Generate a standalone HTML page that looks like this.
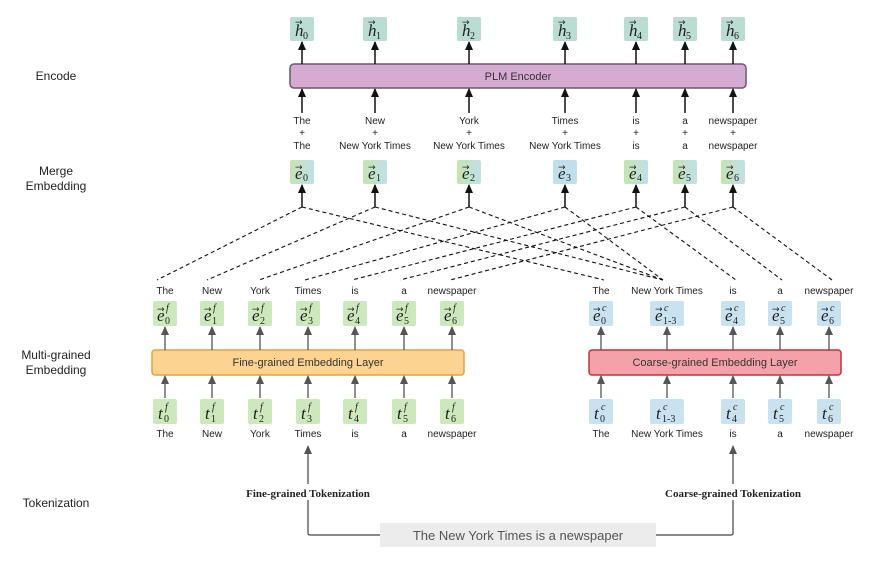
<!DOCTYPE html>
<html><head><meta charset="utf-8"><style>
html,body{margin:0;padding:0;background:#fff;width:874px;height:576px;overflow:hidden}
svg{display:block}
.s{font-family:"Liberation Sans",sans-serif;font-size:10px;fill:#222;text-anchor:middle}
.L{font-family:"Liberation Sans",sans-serif;font-size:12px;fill:#222;text-anchor:middle}
.m{font-family:"Liberation Serif",serif;font-style:italic;font-size:17px;fill:#222}
.sub{font-family:"Liberation Serif",serif;font-size:10px;fill:#222}
.sup{font-family:"Liberation Serif",serif;font-style:italic;font-size:10px;fill:#222}
.ar{font-family:"DejaVu Sans",sans-serif;font-size:9px;fill:#222}
</style></head><body>
<svg width="874" height="576" viewBox="0 0 874 576" xmlns="http://www.w3.org/2000/svg">
<defs>
<marker id="a" markerWidth="9" markerHeight="8" refX="8" refY="4" orient="auto" markerUnits="userSpaceOnUse"><path d="M0,0 L9,4 L0,8 Z" fill="#111"/></marker>
<marker id="g" markerWidth="9" markerHeight="8" refX="8" refY="4" orient="auto" markerUnits="userSpaceOnUse"><path d="M0,0 L9,4 L0,8 Z" fill="#555"/></marker>
<linearGradient id="mg" x1="0" y1="0" x2="1" y2="0"><stop offset="0" stop-color="#c5e4b0"/><stop offset="1" stop-color="#bfe0ea"/></linearGradient>
</defs>

<text class="L" x="56" y="80">Encode</text>
<text class="L" x="56" y="175">Merge</text>
<text class="L" x="56" y="190">Embedding</text>
<text class="L" x="56" y="359">Multi-grained</text>
<text class="L" x="56" y="374">Embedding</text>
<text class="L" x="56" y="507">Tokenization</text>

<g fill="#b9dcd3">
<rect x="290" y="17" width="24" height="24" rx="2"/><rect x="363" y="17" width="24" height="24" rx="2"/><rect x="457" y="17" width="24" height="24" rx="2"/><rect x="553" y="17" width="24" height="24" rx="2"/><rect x="624" y="17" width="24" height="24" rx="2"/><rect x="673" y="17" width="24" height="24" rx="2"/><rect x="721" y="17" width="24" height="24" rx="2"/>
</g>
<g>
<text class="m" x="295" y="36">h</text><text class="sub" x="303" y="39">0</text><text class="ar" x="295" y="25">→</text>
<text class="m" x="368" y="36">h</text><text class="sub" x="376" y="39">1</text><text class="ar" x="368" y="25">→</text>
<text class="m" x="462" y="36">h</text><text class="sub" x="470" y="39">2</text><text class="ar" x="462" y="25">→</text>
<text class="m" x="558" y="36">h</text><text class="sub" x="566" y="39">3</text><text class="ar" x="558" y="25">→</text>
<text class="m" x="629" y="36">h</text><text class="sub" x="637" y="39">4</text><text class="ar" x="629" y="25">→</text>
<text class="m" x="678" y="36">h</text><text class="sub" x="686" y="39">5</text><text class="ar" x="678" y="25">→</text>
<text class="m" x="726" y="36">h</text><text class="sub" x="734" y="39">6</text><text class="ar" x="726" y="25">→</text>
</g>

<rect x="290" y="64" width="456" height="24" rx="4" fill="#d5abd4" stroke="#6f566f" stroke-width="1.5"/>
<text class="s" x="518" y="80" style="font-size:11px;fill:#333">PLM Encoder</text>
<g stroke="#111" stroke-width="1.5" marker-end="url(#a)">
<line x1="302" y1="64" x2="302" y2="42"/><line x1="375" y1="64" x2="375" y2="42"/><line x1="469" y1="64" x2="469" y2="42"/><line x1="565" y1="64" x2="565" y2="42"/><line x1="636" y1="64" x2="636" y2="42"/><line x1="685" y1="64" x2="685" y2="42"/><line x1="733" y1="64" x2="733" y2="42"/>
<line x1="302" y1="113" x2="302" y2="89"/><line x1="375" y1="113" x2="375" y2="89"/><line x1="469" y1="113" x2="469" y2="89"/><line x1="565" y1="113" x2="565" y2="89"/><line x1="636" y1="113" x2="636" y2="89"/><line x1="685" y1="113" x2="685" y2="89"/><line x1="733" y1="113" x2="733" y2="89"/>
<line x1="302" y1="207" x2="302" y2="185"/><line x1="375" y1="207" x2="375" y2="185"/><line x1="469" y1="207" x2="469" y2="185"/><line x1="565" y1="207" x2="565" y2="185"/><line x1="636" y1="207" x2="636" y2="185"/><line x1="685" y1="207" x2="685" y2="185"/><line x1="733" y1="207" x2="733" y2="185"/>
</g>
<g class="s">
<text x="302" y="124">The</text><text x="302" y="136">+</text><text x="302" y="149">The</text>
<text x="375" y="124">New</text><text x="375" y="136">+</text><text x="375" y="149">New York Times</text>
<text x="469" y="124">York</text><text x="469" y="136">+</text><text x="469" y="149">New York Times</text>
<text x="565" y="124">Times</text><text x="565" y="136">+</text><text x="565" y="149">New York Times</text>
<text x="636" y="124">is</text><text x="636" y="136">+</text><text x="636" y="149">is</text>
<text x="685" y="124">a</text><text x="685" y="136">+</text><text x="685" y="149">a</text>
<text x="733" y="124">newspaper</text><text x="733" y="136">+</text><text x="733" y="149">newspaper</text>
</g>

<g fill="url(#mg)">
<rect x="290" y="160" width="24" height="24" rx="2"/><rect x="363" y="160" width="24" height="24" rx="2"/><rect x="457" y="160" width="24" height="24" rx="2"/><rect x="553" y="160" width="24" height="24" rx="2" fill="#bfe0ea"/><rect x="624" y="160" width="24" height="24" rx="2"/><rect x="673" y="160" width="24" height="24" rx="2"/><rect x="721" y="160" width="24" height="24" rx="2"/>
</g>
<g>
<text class="m" x="295" y="179">e</text><text class="sub" x="303" y="181">0</text><text class="ar" x="295" y="170">→</text>
<text class="m" x="368" y="179">e</text><text class="sub" x="376" y="181">1</text><text class="ar" x="368" y="170">→</text>
<text class="m" x="462" y="179">e</text><text class="sub" x="470" y="181">2</text><text class="ar" x="462" y="170">→</text>
<text class="m" x="558" y="179">e</text><text class="sub" x="566" y="181">3</text><text class="ar" x="558" y="170">→</text>
<text class="m" x="629" y="179">e</text><text class="sub" x="637" y="181">4</text><text class="ar" x="629" y="170">→</text>
<text class="m" x="678" y="179">e</text><text class="sub" x="686" y="181">5</text><text class="ar" x="678" y="170">→</text>
<text class="m" x="726" y="179">e</text><text class="sub" x="734" y="181">6</text><text class="ar" x="726" y="170">→</text>
</g>

<g stroke="#111" stroke-width="1.1" stroke-dasharray="4,3" fill="none">
<line x1="302" y1="207" x2="157" y2="280"/><line x1="302" y1="207" x2="604" y2="280"/>
<line x1="375" y1="207" x2="207" y2="280"/><line x1="375" y1="207" x2="663" y2="280"/>
<line x1="469" y1="207" x2="259" y2="280"/><line x1="469" y1="207" x2="663" y2="280"/>
<line x1="565" y1="207" x2="305" y2="280"/><line x1="565" y1="207" x2="663" y2="280"/>
<line x1="636" y1="207" x2="352" y2="280"/><line x1="636" y1="207" x2="736" y2="280"/>
<line x1="685" y1="207" x2="400" y2="280"/><line x1="685" y1="207" x2="782" y2="280"/>
<line x1="733" y1="207" x2="450" y2="280"/><line x1="733" y1="207" x2="832" y2="280"/>
</g>

<g class="s">
<text x="165" y="294">The</text><text x="212" y="294">New</text><text x="260" y="294">York</text><text x="308" y="294">Times</text><text x="355" y="294">is</text><text x="404" y="294">a</text><text x="452" y="294">newspaper</text>
<text x="165" y="437">The</text><text x="212" y="437">New</text><text x="260" y="437">York</text><text x="308" y="437">Times</text><text x="355" y="437">is</text><text x="404" y="437">a</text><text x="452" y="437">newspaper</text>
<text x="601" y="294">The</text><text x="667" y="294">New York Times</text><text x="733" y="294">is</text><text x="780" y="294">a</text><text x="829" y="294">newspaper</text>
<text x="601" y="437">The</text><text x="667" y="437">New York Times</text><text x="733" y="437">is</text><text x="780" y="437">a</text><text x="829" y="437">newspaper</text>
</g>

<g fill="#cde8bd">
<rect x="153" y="301" width="24" height="25" rx="2"/><rect x="200" y="301" width="24" height="25" rx="2"/><rect x="248" y="301" width="24" height="25" rx="2"/><rect x="296" y="301" width="24" height="25" rx="2"/><rect x="343" y="301" width="24" height="25" rx="2"/><rect x="392" y="301" width="24" height="25" rx="2"/><rect x="440" y="301" width="24" height="25" rx="2"/>
<rect x="153" y="399" width="24" height="25" rx="2"/><rect x="200" y="399" width="24" height="25" rx="2"/><rect x="248" y="399" width="24" height="25" rx="2"/><rect x="296" y="399" width="24" height="25" rx="2"/><rect x="343" y="399" width="24" height="25" rx="2"/><rect x="392" y="399" width="24" height="25" rx="2"/><rect x="440" y="399" width="24" height="25" rx="2"/>
</g>
<g>
<text class="m" x="157" y="321">e</text><text class="sub" x="165" y="324">0</text><text class="sup" x="166" y="311">f</text><text class="ar" x="157" y="312">→</text>
<text class="m" x="204" y="321">e</text><text class="sub" x="212" y="324">1</text><text class="sup" x="213" y="311">f</text><text class="ar" x="204" y="312">→</text>
<text class="m" x="252" y="321">e</text><text class="sub" x="260" y="324">2</text><text class="sup" x="261" y="311">f</text><text class="ar" x="252" y="312">→</text>
<text class="m" x="300" y="321">e</text><text class="sub" x="308" y="324">3</text><text class="sup" x="309" y="311">f</text><text class="ar" x="300" y="312">→</text>
<text class="m" x="347" y="321">e</text><text class="sub" x="355" y="324">4</text><text class="sup" x="356" y="311">f</text><text class="ar" x="347" y="312">→</text>
<text class="m" x="396" y="321">e</text><text class="sub" x="404" y="324">5</text><text class="sup" x="405" y="311">f</text><text class="ar" x="396" y="312">→</text>
<text class="m" x="444" y="321">e</text><text class="sub" x="452" y="324">6</text><text class="sup" x="453" y="311">f</text><text class="ar" x="444" y="312">→</text>
<text class="m" x="158" y="419">t</text><text class="sub" x="164" y="422">0</text><text class="sup" x="165" y="410">f</text>
<text class="m" x="205" y="419">t</text><text class="sub" x="211" y="422">1</text><text class="sup" x="212" y="410">f</text>
<text class="m" x="253" y="419">t</text><text class="sub" x="259" y="422">2</text><text class="sup" x="260" y="410">f</text>
<text class="m" x="301" y="419">t</text><text class="sub" x="307" y="422">3</text><text class="sup" x="308" y="410">f</text>
<text class="m" x="348" y="419">t</text><text class="sub" x="354" y="422">4</text><text class="sup" x="355" y="410">f</text>
<text class="m" x="397" y="419">t</text><text class="sub" x="403" y="422">5</text><text class="sup" x="404" y="410">f</text>
<text class="m" x="445" y="419">t</text><text class="sub" x="451" y="422">6</text><text class="sup" x="452" y="410">f</text>
</g>

<g fill="#c9e2f0">
<rect x="589" y="301" width="24" height="25" rx="2"/><rect x="650" y="301" width="34" height="25" rx="2"/><rect x="721" y="301" width="24" height="25" rx="2"/><rect x="768" y="301" width="24" height="25" rx="2"/><rect x="817" y="301" width="24" height="25" rx="2"/>
<rect x="589" y="399" width="24" height="25" rx="2"/><rect x="650" y="399" width="34" height="25" rx="2"/><rect x="721" y="399" width="24" height="25" rx="2"/><rect x="768" y="399" width="24" height="25" rx="2"/><rect x="817" y="399" width="24" height="25" rx="2"/>
</g>
<g>
<text class="m" x="593" y="321">e</text><text class="sub" x="601" y="324">0</text><text class="sup" x="602" y="311">c</text><text class="ar" x="593" y="312">→</text>
<text class="m" x="655" y="321">e</text><text class="sub" x="663" y="324">1-3</text><text class="sup" x="664" y="311">c</text><text class="ar" x="655" y="312">→</text>
<text class="m" x="725" y="321">e</text><text class="sub" x="733" y="324">4</text><text class="sup" x="734" y="311">c</text><text class="ar" x="725" y="312">→</text>
<text class="m" x="772" y="321">e</text><text class="sub" x="780" y="324">5</text><text class="sup" x="781" y="311">c</text><text class="ar" x="772" y="312">→</text>
<text class="m" x="821" y="321">e</text><text class="sub" x="829" y="324">6</text><text class="sup" x="830" y="311">c</text><text class="ar" x="821" y="312">→</text>
<text class="m" x="594" y="419">t</text><text class="sub" x="600" y="422">0</text><text class="sup" x="601" y="410">c</text>
<text class="m" x="656" y="419">t</text><text class="sub" x="662" y="422">1-3</text><text class="sup" x="663" y="410">c</text>
<text class="m" x="726" y="419">t</text><text class="sub" x="732" y="422">4</text><text class="sup" x="733" y="410">c</text>
<text class="m" x="773" y="419">t</text><text class="sub" x="779" y="422">5</text><text class="sup" x="780" y="410">c</text>
<text class="m" x="822" y="419">t</text><text class="sub" x="828" y="422">6</text><text class="sup" x="829" y="410">c</text>
</g>

<rect x="152" y="350" width="312" height="25" rx="3" fill="#fcd391" stroke="#e6a23a" stroke-width="1.5"/>
<text class="s" x="308" y="366" style="font-size:11px;fill:#333">Fine-grained Embedding Layer</text>
<rect x="589" y="350" width="252" height="25" rx="3" fill="#f4a2a9" stroke="#c8303a" stroke-width="1.5"/>
<text class="s" x="715" y="366" style="font-size:11px;fill:#333">Coarse-grained Embedding Layer</text>

<g stroke="#555" stroke-width="1.3" marker-end="url(#g)">
<line x1="165" y1="350" x2="165" y2="327"/><line x1="212" y1="350" x2="212" y2="327"/><line x1="260" y1="350" x2="260" y2="327"/><line x1="308" y1="350" x2="308" y2="327"/><line x1="355" y1="350" x2="355" y2="327"/><line x1="404" y1="350" x2="404" y2="327"/><line x1="452" y1="350" x2="452" y2="327"/>
<line x1="165" y1="398" x2="165" y2="376"/><line x1="212" y1="398" x2="212" y2="376"/><line x1="260" y1="398" x2="260" y2="376"/><line x1="308" y1="398" x2="308" y2="376"/><line x1="355" y1="398" x2="355" y2="376"/><line x1="404" y1="398" x2="404" y2="376"/><line x1="452" y1="398" x2="452" y2="376"/>
<line x1="601" y1="350" x2="601" y2="327"/><line x1="667" y1="350" x2="667" y2="327"/><line x1="733" y1="350" x2="733" y2="327"/><line x1="780" y1="350" x2="780" y2="327"/><line x1="829" y1="350" x2="829" y2="327"/>
<line x1="601" y1="398" x2="601" y2="376"/><line x1="667" y1="398" x2="667" y2="376"/><line x1="733" y1="398" x2="733" y2="376"/><line x1="780" y1="398" x2="780" y2="376"/><line x1="829" y1="398" x2="829" y2="376"/>
</g>

<path d="M380,535 H310 Q308,535 308,533 V446" stroke="#444" stroke-width="1.2" fill="none" marker-end="url(#g)"/>
<path d="M656,535 H731 Q733,535 733,533 V446" stroke="#444" stroke-width="1.2" fill="none" marker-end="url(#g)"/>
<rect x="240" y="484" width="136" height="16" fill="#fff"/>
<rect x="657" y="484" width="152" height="16" fill="#fff"/>
<text x="308" y="497" style="font-family:'Liberation Serif',serif;font-weight:bold;font-size:11px;fill:#222;text-anchor:middle">Fine-grained Tokenization</text>
<text x="733" y="497" style="font-family:'Liberation Serif',serif;font-weight:bold;font-size:11px;fill:#222;text-anchor:middle">Coarse-grained Tokenization</text>
<rect x="380" y="523" width="276" height="24" fill="#ececec"/>
<text x="518" y="540" style="font-family:'Liberation Sans',sans-serif;font-size:13px;fill:#555;text-anchor:middle">The New York Times is a newspaper</text>
</svg>
</body></html>
